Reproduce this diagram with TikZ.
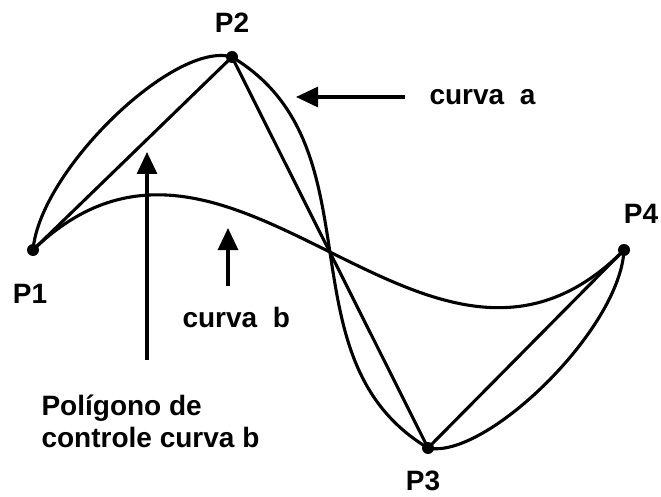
\documentclass[tikz,border=0pt]{standalone}
\usepackage{fontspec}
\setmainfont{Liberation Sans}
\usetikzlibrary{arrows.meta}
\begin{document}
\begin{tikzpicture}[x=1pt,y=-1pt,
  line width=3.1pt,
  dot/.style={circle,fill=black,inner sep=0pt,minimum size=12pt},
  lbl/.style={font=\bfseries\fontsize{28}{32}\selectfont,inner sep=0pt},
  pointer/.style={-{Triangle[length=22pt,width=20pt]},line width=3.1pt}]
\useasboundingbox (0,0) rectangle (661,497);
% control points
\node[dot] (P1) at (33,250) {};
\node[dot] (P2) at (232,57) {};
\node[dot] (P3) at (428,448) {};
\node[dot] (P4) at (624,250) {};
% point labels
\node[lbl,anchor=base] (L1) at (30,303) {P1};
\node[lbl,anchor=base] (L2) at (232,33) {P2};
\node[lbl,anchor=base] (L3) at (423,490) {P3};
\node[lbl,anchor=base] (L4) at (641,223) {P4};
% curve a
\draw (P1.center) .. controls (40,170) and (175,40) .. (P2.center)
      .. controls (382,147) and (278,358) .. (P3.center)
      .. controls (485,460) and (620,330) .. (P4.center);
% curve b
\draw (P1.center) .. controls (P2.center) and (P3.center) .. (P4.center);
% control polygon
\draw (P1.center) -- (P2.center) -- (P3.center) -- (P4.center);
% texts
\node[lbl,anchor=base west] (ca) at (428,105) {curva\ \ a};
\node[lbl,anchor=base west] (cb) at (181,327) {curva\ \ b};
\node[lbl,anchor=base west] (poly1) at (40,415) {Polígono de};
\node[lbl,anchor=base west] (poly2) at (40,447) {controle curva b};
% pointers
\coordinate (aS) at (405,97);
\coordinate (aT) at (296,97);
\coordinate (bS) at (228,286);
\coordinate (bT) at (228,228);
\coordinate (pS) at (147,360);
\coordinate (pT) at (147,152);
\draw[pointer] (aS) -- (aT);
\draw[pointer] (bS) -- (bT);
\draw[pointer] (pS) -- (pT);
\end{tikzpicture}
\end{document}
